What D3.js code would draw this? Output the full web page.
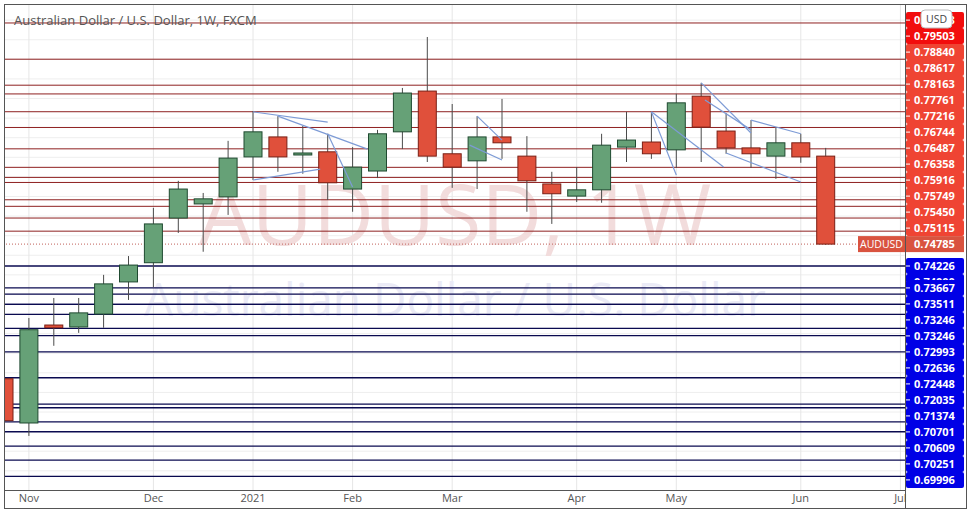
<!DOCTYPE html>
<html><head><meta charset="utf-8">
<script src="https://cdn.jsdelivr.net/npm/d3@7"></script>
<style>body{margin:0;background:#fff}svg{font-family:"Open Sans",Arial,sans-serif}</style>
</head><body><svg id="grafico"></svg>
<script>
// weekly candles, index 0 = week of 26 Oct 2020
const abertura = [0.7135,0.7022,0.7272,0.7267,0.7300,0.7382,0.7431,0.7545,0.7581,0.7599,0.7701,0.7752,0.7706,0.7714,0.7619,0.7665,0.7765,0.7869,0.7709,0.7691,0.7752,0.7703,0.7632,0.7601,0.7617,0.7726,0.7739,0.7719,0.7856,0.7767,0.7724,0.7703,0.7737,0.7703];
const maxima   = [0.7145,0.7290,0.7341,0.7341,0.7400,0.7448,0.7571,0.7640,0.7609,0.7742,0.7818,0.7805,0.7780,0.7760,0.7726,0.7770,0.7877,0.8007,0.7836,0.7805,0.7849,0.7754,0.7663,0.7675,0.7760,0.7816,0.7816,0.7862,0.7890,0.7813,0.7795,0.7777,0.7760,0.7724];
const minima   = [0.7017,0.6989,0.7219,0.7252,0.7265,0.7336,0.7369,0.7507,0.7459,0.7553,0.7642,0.7663,0.7658,0.7591,0.7561,0.7647,0.7721,0.7688,0.7622,0.7619,0.7696,0.7561,0.7530,0.7586,0.7584,0.7688,0.7696,0.7673,0.7688,0.7709,0.7673,0.7645,0.7686,0.7477];
const fechamento = [0.7028,0.7260,0.7265,0.7303,0.7377,0.7425,0.7530,0.7619,0.7594,0.7698,0.7765,0.7701,0.7711,0.7635,0.7675,0.7760,0.7864,0.7703,0.7675,0.7752,0.7737,0.7640,0.7607,0.7617,0.7731,0.7744,0.7709,0.7839,0.7777,0.7724,0.7709,0.7737,0.7701,0.74785];

const meses = ['Nov','Dec','2021','Feb','Mar','Apr','May','Jun','Jul'];
const mesesIndice = [1,6,10,14,18,23,27,32,36];

const resistencias = [0.80428,0.79503,0.78840,0.78617,0.78163,0.77761,0.77216,0.76744,0.76487,0.76358,0.75916,0.75749,0.75450,0.75115];
const suportes = [0.74226,0.73667,0.73511,0.73246,0.73246,0.72993,0.72636,0.72448,0.72035,0.71374,0.70701,0.70609,0.70251,0.69996];
const suportesExtra = [0.6963,0.6927,0.6886];
const rotuloOculto = 0.74000;
const ultimo = 0.74785;

// trend drawings: [indice, preco, indice, preco]
const tendencias = [
  [10,0.7816,13,0.7790],[11,0.7805,14.6,0.7721],[10,0.7642,12.7,0.7670],[13,0.7760,14,0.7624],
  [19,0.7805,20,0.7744],[18.7,0.7731,20,0.7693],[26,0.7816,27,0.7655],[26,0.7816,28.9,0.7675],
  [28,0.7890,30,0.7762],[28.15,0.7846,30,0.7770],[30,0.7795,32,0.7760],[29,0.7711,32,0.7637]
];

const largura = 973, altura = 514;
const svg = d3.select('#grafico').attr('width', largura).attr('height', altura);
const direita = 905, base = 490, topo = 5;

const x = d3.scaleLinear().domain([0, 1]).range([4, 28.9]);
const y = d3.scaleLinear().domain([0.6851, 0.8081]).range([base, 8]);

const clip = svg.append('clipPath').attr('id', 'area').append('rect')
  .attr('x', 4).attr('y', topo).attr('width', direita - 4).attr('height', base - topo);
const plot = svg.append('g').attr('clip-path', 'url(#area)');

// grid
plot.selectAll('.gy').data(d3.range(0.690, 0.806, 0.005)).enter().append('line')
  .attr('x1', 0).attr('x2', direita).attr('y1', d => y(d)).attr('y2', d => y(d))
  .attr('stroke', '#eeeeee');
plot.selectAll('.gx').data(mesesIndice).enter().append('line')
  .attr('x1', d => x(d)).attr('x2', d => x(d)).attr('y1', 0).attr('y2', base)
  .attr('stroke', '#e6e6e6');

// watermark
plot.append('text').attr('x', 455).attr('y', 245).attr('text-anchor', 'middle')
  .attr('font-size', 84).attr('fill', '#f2dcdc').text('AUDUSD, 1W');
plot.append('text').attr('x', 455).attr('y', 316).attr('text-anchor', 'middle')
  .attr('font-size', 46).attr('fill', '#ebebf6').text('Australian Dollar / U.S. Dollar');

// level lines
plot.selectAll('.res').data(resistencias).enter().append('line')
  .attr('x1', 0).attr('x2', direita).attr('y1', d => y(d)).attr('y2', d => y(d))
  .attr('stroke', '#8e2020').attr('stroke-width', 1);
plot.selectAll('.sup').data(suportes.concat(suportesExtra)).enter().append('line')
  .attr('x1', 0).attr('x2', direita).attr('y1', d => y(d)).attr('y2', d => y(d))
  .attr('stroke', '#0a0a50').attr('stroke-width', 1.3);

// dotted last price
plot.append('line').attr('x1', 0).attr('x2', 858).attr('y1', y(ultimo)).attr('y2', y(ultimo))
  .attr('stroke', '#c0605a').attr('stroke-dasharray', '1,2');

// candles
const idx = d3.range(abertura.length);
const alta = i => fechamento[i] >= abertura[i];
plot.selectAll('.pavio').data(idx).enter().append('line')
  .attr('x1', i => x(i)).attr('x2', i => x(i))
  .attr('y1', i => y(maxima[i])).attr('y2', i => y(minima[i]))
  .attr('stroke', '#4a4a4a');
plot.selectAll('.corpo').data(idx).enter().append('rect')
  .attr('x', i => x(i) - 9).attr('width', 18)
  .attr('y', i => y(Math.max(abertura[i], fechamento[i])))
  .attr('height', i => Math.max(2, Math.abs(y(abertura[i]) - y(fechamento[i]))))
  .attr('fill', i => alta(i) ? '#66a177' : '#e0503b')
  .attr('stroke', i => alta(i) ? '#1f4a30' : '#7a1f14').attr('stroke-width', 1);

// trend drawings
plot.selectAll('.tend').data(tendencias).enter().append('line')
  .attr('x1', d => x(d[0])).attr('y1', d => y(d[1]))
  .attr('x2', d => x(d[2])).attr('y2', d => y(d[3]))
  .attr('stroke', '#7d9bd6').attr('stroke-width', 1.2);

// frame & axes
svg.append('rect').attr('x', 4.5).attr('y', 4.5).attr('width', 962).attr('height', 504)
  .attr('fill', 'none').attr('stroke', '#555');
svg.append('line').attr('x1', direita + 0.5).attr('x2', direita + 0.5).attr('y1', 4).attr('y2', 509).attr('stroke', '#555');
svg.append('line').attr('x1', 4).attr('x2', direita).attr('y1', base + 0.5).attr('y2', base + 0.5).attr('stroke', '#555');
svg.selectAll('.mes').data(meses).enter().append('text')
  .attr('x', (d, i) => x(mesesIndice[i])).attr('y', 502).attr('text-anchor', 'middle')
  .attr('font-size', 11).attr('fill', '#555').text(d => d);

svg.append('text').attr('x', 14).attr('y', 25).attr('font-size', 13).attr('fill', '#555')
  .text('Australian Dollar / U.S. Dollar, 1W, FXCM');

// price labels (stacked to avoid overlap)
const passo = 16;
const rotulos = [];
let yy = y(ultimo);
resistencias.slice().reverse().forEach(p => {
  yy = Math.min(y(p), yy - passo);
  rotulos.push({p, y: yy, cor: p > 0.79 ? '#f20d0d' : '#ef4433'});
});
yy = y(suportes[0]);
rotulos.push({p: rotuloOculto, y: yy + passo, cor: '#0000e6', oculto: true});
suportes.forEach((p, i) => {
  yy = i === 0 ? y(p) : Math.max(y(p), yy + passo);
  rotulos.push({p, y: yy, cor: '#0000e6'});
});
rotulos.sort((a, b) => (b.oculto ? 1 : 0) - (a.oculto ? 1 : 0));
const eixo = svg.append('g');
rotulos.forEach(r => {
  const g = eixo.append('g').attr('transform', `translate(${direita + 1},${r.y})`);
  g.append('rect').attr('x', 0).attr('y', -8).attr('width', 58).attr('height', 16).attr('rx', 2).attr('fill', r.cor);
  g.append('line').attr('x1', 0).attr('x2', 4).attr('stroke', '#fff');
  g.append('text').attr('x', 8).attr('y', 4).attr('font-size', 11).attr('font-weight', 'bold')
    .attr('fill', '#fff').text(r.p.toFixed(5));
});
const gu = eixo.append('g').attr('transform', `translate(${direita + 1},${y(ultimo)})`);
gu.append('rect').attr('y', -8).attr('width', 58).attr('height', 16).attr('fill', '#d9533f');
gu.append('text').attr('x', 8).attr('y', 4).attr('font-size', 11).attr('font-weight', 'bold').attr('fill', '#fff').text(ultimo.toFixed(5));
const ga = svg.append('g').attr('transform', `translate(858,${y(ultimo)})`);
ga.append('rect').attr('y', -8).attr('width', 47).attr('height', 16).attr('fill', '#d9533f');
ga.append('text').attr('x', 23.5).attr('y', 4).attr('text-anchor', 'middle').attr('font-size', 10.5).attr('fill', '#fff').text('AUDUSD');

svg.append('rect').attr('x', 921).attr('y', 10).attr('width', 31).attr('height', 18).attr('rx', 4)
  .attr('fill', '#fff').attr('stroke', '#bbb');
svg.append('text').attr('x', 936.5).attr('y', 23).attr('text-anchor', 'middle').attr('font-size', 10.5).attr('fill', '#444').text('USD');
</script></body></html>
